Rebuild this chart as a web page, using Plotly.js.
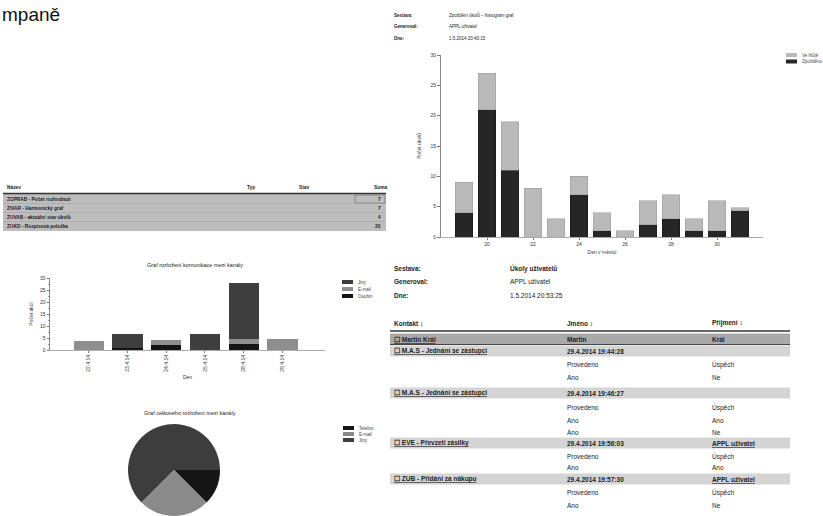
<!DOCTYPE html>
<html>
<head>
<meta charset="utf-8">
<script src="https://cdn.plot.ly/plotly-3.0.1.min.js"></script>
<style>html,body{margin:0;padding:0;background:#fff;}#chart{width:823px;height:516px;}</style>
</head>
<body>
<div id="chart"></div>
<script>
// ---------- DATA ----------
// top-right histogram
const days = ["19","20","21","22","23","24","25","26","27","28","29","30","31"];
const lateTasks = [4, 21, 11, 0, 0, 7, 1, 0, 2, 3, 1, 1, 4.3];
const onTimeTasks = [5, 6, 8, 8, 3, 3, 3, 1, 4, 4, 2, 5, 0.5];
const histSeriesNames = ["Zpožděno", "Ve lhůtě"];

// left stacked bar chart
const commDates = ["22.4.14", "23.4.14", "24.4.14", "25.4.14", "28.4.14", "29.4.14"];
const commPersonal = [0, 1, 2, 0, 2.5, 0];
const commEmail = [3.7, 0, 2, 0, 2, 4.5];
const commOther = [0, 5.7, 0, 6.5, 23.5, 0];
const commSeriesNames = ["Osobní", "E-mail", "Jiný"];

// pie
const pieLabels = ["Telefon", "E-mail", "Jiný"];
const pieValues = [12.5, 25, 62.5];

// texts
const pageTitle = "mpaně";
const infoLabels = ["Sestava:", "Generoval:", "Dne:"];
const histInfoValues = ["Zpoždění úkolů – histogram graf", "APPL uživatel", "1.5.2014 20:40:15"];
const taskInfoValues = ["Úkoly uživatelů", "APPL uživatel", "1.5.2014 20:53:25"];
const summaryHeader = ["Název", "Typ", "Stav", "Suma"];
const summaryNames = ["ZOPRAB - Počet rozhodnutí", "ZIVAR - Harmonický graf", "ZUVAB - aktuální stav úkolů", "ZUKO - Rozpisová položka"];
const summarySums = ["7", "7", "4", "20"];
const commTitle = "Graf rozložení komunikace mezi kanály";
const pieTitle = "Graf celkového rozložení mezi kanály";
const taskHeader = ["Kontakt ↕", "Jméno ↕", "Příjmení ↕"];
const taskCol1 = ["☐ Martin Král", "☐ M.A.S - Jednání se zástupci", "", "", "☐ M.A.S - Jednání se zástupci", "", "", "", "☐ EVE - Převzetí zásilky", "", "", "☐ ZUB - Přidání za nákupu", "", ""];
const taskCol2 = ["Martin", "29.4.2014 19:44:28", "Provedeno", "Ano", "29.4.2014 19:46:27", "Provedeno", "Ano", "Ano", "29.4.2014 19:56:03", "Provedeno", "Ano", "29.4.2014 19:57:30", "Provedeno", "Ano"];
const taskCol3 = ["Král", "", "Úspěch", "Ne", "", "Úspěch", "Ano", "Ne", "APPL uživatel", "Úspěch", "Ano", "APPL uživatel", "Úspěch", "Ne"];

// ---------- STYLES / POSITIONS ----------
const W = 823, H = 516;
const px = x => x / W;
const py = y => 1 - y / H;
const FONT = "Liberation Sans, Arial, sans-serif";
const histColors = ["#262626", "#b9b9b9"];
const commColors = ["#141414", "#8e8e8e", "#3e3e3e"];
const pieColors = ["#151515", "#8a8a8a", "#3d3d3d"];
const taskRowY = [339, 351, 364, 377, 393, 407, 420, 432, 443, 456, 467, 479, 492, 505];
const taskBand = [2, 1, 0, 0, 1, 0, 0, 0, 1, 0, 0, 1, 0, 0];
const taskColX = [392, 565, 710];
const summaryRowY = [199, 208, 217, 226];
const summaryColX = [5, 245, 297, 372];

const annotations = [];
const shapes = [];
function txt(x, y, text, size, opts) {
  annotations.push(Object.assign({
    xref: "paper", yref: "paper", x: px(x), y: py(y), text: text,
    showarrow: false, xanchor: "left", yanchor: "middle",
    font: {family: FONT, size: size, color: "#222"}
  }, opts || {}));
}
function rect(x0, y0, x1, y1, fill, line) {
  shapes.push({type: "rect", xref: "paper", yref: "paper", x0: px(x0), x1: px(x1), y0: py(y1), y1: py(y0),
               fillcolor: fill, line: line || {width: 0}, layer: "below"});
}
function hline(x0, x1, y, color, width) {
  shapes.push({type: "line", xref: "paper", yref: "paper", x0: px(x0), x1: px(x1), y0: py(y), y1: py(y), line: {color: color, width: width}});
}
// compact legend drawn with the trace colours
function legendBox(x, y, step, names, colors) {
  names.forEach((n, i) => {
    rect(x, y + i * step - 2, x + 11, y + i * step + 2, colors[i]);
    txt(x + 14, y + i * step, n, 4.5, {font: {family: FONT, size: 4.5, color: "#444"}});
  });
}

// page title
txt(0, 14, pageTitle, 19, {font: {family: FONT, size: 19, color: "#111"}});

// top-right info block
infoLabels.forEach((l, i) => {
  txt(392, 15 + i * 11.5, "<b>" + l + "</b>", 4.5);
  txt(447, 15 + i * 11.5, histInfoValues[i], 4.5);
});

// summary table (left top)
summaryHeader.forEach((h, i) => txt(summaryColX[i], 187, "<b>" + h + "</b>", 4.8));
rect(3, 194, 386, 231, "#bdbdbd");
hline(3, 386, 193.5, "#333", 1.5);
shapes.push({type: "rect", xref: "paper", yref: "paper", x0: px(355), x1: px(385), y0: py(203), y1: py(195), fillcolor: "rgba(0,0,0,0)", line: {color: "#777", width: 0.8}});
summaryNames.forEach((n, i) => {
  txt(summaryColX[0], summaryRowY[i], "<b>" + n + "</b>", 4.8);
  txt(383, summaryRowY[i], "<b>" + summarySums[i] + "</b>", 4.8, {xanchor: "right"});
  if (i > 0) hline(3, 386, summaryRowY[i] - 4.5, "#a5a5a5", 0.6);
});

// sub chart titles
txt(195, 265, commTitle, 5.5, {xanchor: "center"});
txt(190, 413, pieTitle, 5.5, {xanchor: "center"});

// legends
legendBox(786, 55, 6.5, [histSeriesNames[1], histSeriesNames[0]], [histColors[1], histColors[0]]);
legendBox(342, 282, 7, [commSeriesNames[2], commSeriesNames[1], commSeriesNames[0]], [commColors[2], commColors[1], commColors[0]]);
legendBox(343, 428, 6, pieLabels, pieColors);

// bottom-right info block
infoLabels.forEach((l, i) => {
  txt(392, 268 + i * 13.5, "<b>" + l + "</b>", 6.5);
  txt(508, 268 + i * 13.5, (i === 0 ? "<b>" + taskInfoValues[i] + "</b>" : taskInfoValues[i]), 6.5);
});

// task table
taskHeader.forEach((h, i) => txt(taskColX[i], 323, "<b>" + h + "</b>", 6.5));
hline(390, 790, 331, "#333", 1.5);
taskRowY.forEach((y, i) => {
  if (taskBand[i] === 2) {
    rect(390, y - 5.5, 790, y + 5.5, "#a9a9a9");
    hline(390, 790, y + 5.5, "#444", 1);
  } else if (taskBand[i] === 1) {
    rect(390, y - 5.5, 790, y + 5.5, "#d4d4d4");
  }
  const bold = taskBand[i] > 0;
  if (taskCol1[i]) txt(taskColX[0], y, "<b><u>" + taskCol1[i] + "</u></b>", 6.5);
  if (taskCol2[i]) txt(taskColX[1], y, bold ? "<b>" + taskCol2[i] + "</b>" : taskCol2[i], 6.5);
  if (taskCol3[i]) txt(taskColX[2], y, bold && i > 0 ? "<b><u>" + taskCol3[i] + "</u></b>" : (bold ? "<b>" + taskCol3[i] + "</b>" : taskCol3[i]), 6.5);
});

// ---------- TRACES ----------
const traces = [
  {type: "bar", x: days, y: lateTasks, name: histSeriesNames[0], xaxis: "x", yaxis: "y", marker: {color: histColors[0], line: {color: "#111", width: 0.5}}},
  {type: "bar", x: days, y: onTimeTasks, name: histSeriesNames[1], xaxis: "x", yaxis: "y", marker: {color: histColors[1], line: {color: "#999", width: 0.5}}},
  {type: "bar", x: commDates, y: commPersonal, name: commSeriesNames[0], xaxis: "x2", yaxis: "y2", marker: {color: commColors[0]}},
  {type: "bar", x: commDates, y: commEmail, name: commSeriesNames[1], xaxis: "x2", yaxis: "y2", marker: {color: commColors[1]}},
  {type: "bar", x: commDates, y: commOther, name: commSeriesNames[2], xaxis: "x2", yaxis: "y2", marker: {color: commColors[2]}},
  {type: "pie", labels: pieLabels, values: pieValues, sort: false, direction: "clockwise", rotation: 90,
   textinfo: "none", domain: {x: [px(127), px(221)], y: [0, 92 / H]},
   marker: {colors: pieColors, line: {width: 0}}}
];

const tickFont = {family: FONT, size: 5, color: "#333"};

const layout = {
  width: W, height: H,
  margin: {l: 0, r: 0, t: 0, b: 0},
  paper_bgcolor: "#ffffff", plot_bgcolor: "rgba(0,0,0,0)",
  barmode: "stack",
  showlegend: false,
  font: {family: FONT, color: "#222"},
  xaxis: {domain: [px(441), px(763)], anchor: "y", type: "category", range: [-1, 13],
          tickmode: "array", tickvals: days.filter((d, i) => i % 2 === 1),
          ticks: "outside", ticklen: 2, tickcolor: "#777", tickfont: tickFont,
          showline: true, linecolor: "#aaa", linewidth: 1, showgrid: false,
          title: {text: "Den v měsíci", font: {family: FONT, size: 5, color: "#333"}, standoff: 4}},
  yaxis: {domain: [py(237), py(55)], anchor: "x", range: [0, 30], dtick: 5,
          ticks: "outside", ticklen: 3, tickcolor: "#777", tickfont: tickFont,
          showline: true, linecolor: "#888", showgrid: false, zeroline: false,
          title: {text: "Počet úkolů", font: {family: FONT, size: 5, color: "#333"}, standoff: 8}},
  xaxis2: {domain: [px(50), px(325)], anchor: "y2", type: "category", range: [-1, 6.1],
           tickangle: -90, ticks: "outside", ticklen: 2, tickcolor: "#777", tickfont: tickFont,
           showline: true, linecolor: "#aaa", showgrid: false,
           title: {text: "Den", font: {family: FONT, size: 5, color: "#333"}, standoff: 4}},
  yaxis2: {domain: [py(350), py(278)], anchor: "x2", range: [0, 30], dtick: 5,
           ticks: "outside", ticklen: 2.5, tickcolor: "#777", tickfont: tickFont,
           minor: {ticks: "outside", ticklen: 1.5, dtick: 2.5, tickcolor: "#999"},
           showline: true, linecolor: "#888", showgrid: false, zeroline: false,
           title: {text: "Počet akcí", font: {family: FONT, size: 5, color: "#333"}, standoff: 6}},
  bargap: 0.22,
  annotations: annotations,
  shapes: shapes
};

Plotly.newPlot("chart", traces, layout, {displayModeBar: false, staticPlot: true});
</script>
</body>
</html>
